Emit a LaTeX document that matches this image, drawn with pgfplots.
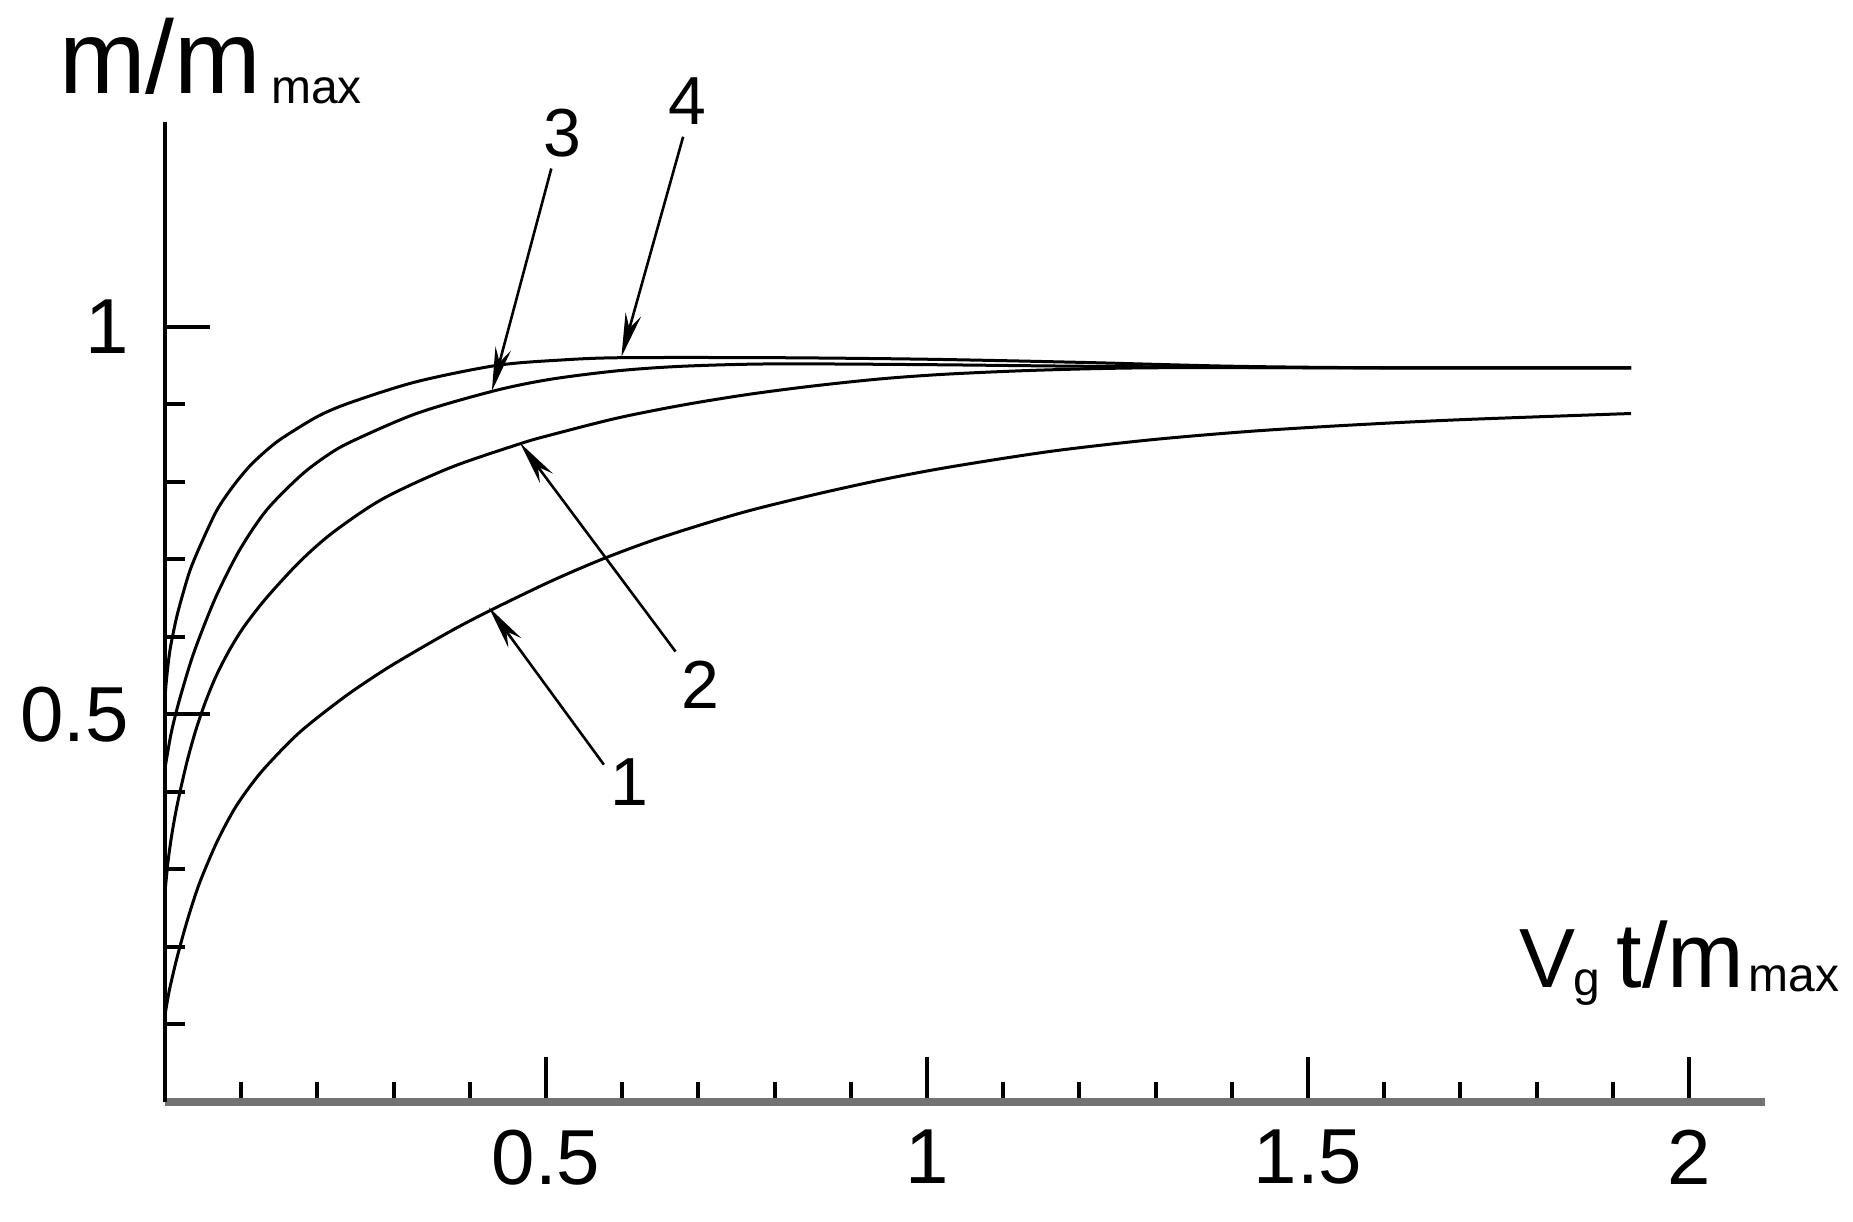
\documentclass[border=0pt]{standalone}
\usepackage{fontspec}
\setmainfont{Liberation Sans}
\usepackage{pgfplots}
\pgfplotsset{compat=1.18}
\usetikzlibrary{arrows.meta}
\begin{document}
\begin{tikzpicture}
\begin{axis}[
  x=190.5pt, y=193.8pt,
  xmin=0, xmax=2.1, ymin=0, ymax=1.264,
  axis x line=bottom, axis y line=left,
  x axis line style={-, black!55, line width=2.2pt},
  y axis line style={-, black, line width=1.2pt},
  tick align=inside,
  xtick={0.5,1,1.5,2},
  minor xtick={0.1,0.2,0.3,0.4,0.6,0.7,0.8,0.9,1.1,1.2,1.3,1.4,1.6,1.7,1.8,1.9},
  ytick={0.5,1},
  minor ytick={0.1,0.2,0.3,0.4,0.6,0.7,0.8,0.9},
  major tick length=11.2pt, minor tick length=5pt,
  every tick/.style={black, line width=1pt},
  ticklabel style={font=\fontsize{19.5}{20}\selectfont},
  /pgf/number format/assume math mode=true,
  xticklabel style={yshift=-3.5pt},
  yticklabel style={xshift=-5.5pt},
  clip=false,
]
% curve 1
\addplot[black, line width=0.75pt, smooth, tension=0.5] coordinates {
(0,0.112) (0.004,0.135) (0.0066,0.148) (0.015,0.183) (0.024,0.216) (0.033,0.246)
(0.046,0.284) (0.068,0.335) (0.09,0.376) (0.11,0.405) (0.133,0.433) (0.177,0.477)
(0.235,0.522) (0.286,0.556) (0.33,0.582) (0.38,0.610) (0.427,0.634) (0.505,0.671)
(0.571,0.699) (0.636,0.723) (0.702,0.744) (0.768,0.763) (0.855,0.784) (0.943,0.803)
(1.03,0.819) (1.161,0.839) (1.293,0.854) (1.424,0.865) (1.555,0.873) (1.70,0.880)
(1.924,0.888)};
% curve 2
\addplot[black, line width=0.75pt, smooth, tension=0.5] coordinates {
(0,0.27) (0.004,0.31) (0.009,0.345) (0.015,0.378) (0.022,0.41) (0.03,0.443)
(0.04,0.478) (0.052,0.513) (0.066,0.547) (0.083,0.580) (0.103,0.612) (0.133,0.650)
(0.177,0.697) (0.221,0.735) (0.286,0.778) (0.374,0.818) (0.466,0.849) (0.505,0.860)
(0.593,0.882) (0.68,0.899) (0.768,0.913) (0.855,0.924) (0.943,0.933) (1.03,0.939)
(1.15,0.944) (1.3,0.947) (1.6,0.947) (1.924,0.947)};
% curve 3
\addplot[black, line width=0.75pt, smooth, tension=0.5] coordinates {
(0,0.43) (0.008,0.475) (0.018,0.515) (0.033,0.565) (0.046,0.601) (0.068,0.654)
(0.098,0.712) (0.133,0.763) (0.177,0.807) (0.21,0.832) (0.243,0.851) (0.33,0.888)
(0.431,0.917) (0.505,0.932) (0.593,0.943) (0.68,0.949) (0.8,0.952) (1.0,0.951)
(1.2,0.949) (1.5,0.947) (1.924,0.947)};
% curve 4
\addplot[black, line width=0.75pt, smooth, tension=0.5] coordinates {
(0,0.52) (0.002,0.545) (0.0066,0.583) (0.015,0.624) (0.024,0.657) (0.033,0.686)
(0.046,0.717) (0.068,0.763) (0.09,0.795) (0.112,0.821) (0.135,0.842) (0.155,0.857)
(0.2,0.884) (0.243,0.902) (0.33,0.929) (0.435,0.950) (0.52,0.957) (0.6,0.960)
(0.8,0.960) (1.0,0.958) (1.2,0.954) (1.4,0.949) (1.6,0.947) (1.924,0.947)};
% arrows and curve numbers
\draw[line width=0.65pt, -{Stealth[length=11pt, width=4pt]}] (axis cs:0.576,0.435) -- (axis cs:0.425,0.638);
\draw[line width=0.65pt, -{Stealth[length=11pt, width=4pt]}] (axis cs:0.670,0.581) -- (axis cs:0.466,0.850);
\draw[line width=0.65pt, -{Stealth[length=11pt, width=4pt]}] (axis cs:0.507,1.204) -- (axis cs:0.429,0.917);
\draw[line width=0.65pt, -{Stealth[length=11pt, width=4pt]}] (axis cs:0.680,1.245) -- (axis cs:0.599,0.961);
\node[font=\fontsize{17}{17}\selectfont, inner sep=0] at (axis cs:0.61,0.413) {1};
\node[font=\fontsize{17}{17}\selectfont, inner sep=0] at (axis cs:0.702,0.538) {2};
\node[font=\fontsize{17}{17}\selectfont, inner sep=0] at (axis cs:0.521,1.250) {3};
\node[font=\fontsize{17}{17}\selectfont, inner sep=0] at (axis cs:0.686,1.291) {4};
% axis labels
\node[anchor=base west, inner sep=0] at (axis cs:-0.140,1.301)
  {\fontsize{26}{26}\selectfont m/m\hspace{2.5pt}\fontsize{12}{12}\selectfont\raisebox{-2.5pt}{max}};
\node[anchor=base east, inner sep=0] at (axis cs:2.198,0.148)
  {\fontsize{21}{21}\selectfont V\kern-0.3pt\fontsize{12}{12}\selectfont\raisebox{-2pt}{g}\hspace{4pt}\fontsize{23}{23}\selectfont t/m\hspace{1pt}\fontsize{12}{12}\selectfont\raisebox{-1pt}{max}};
\coordinate (bbll) at (axis cs:-0.2165,-0.1548);
\coordinate (bbur) at (axis cs:2.2152,1.4214);
\end{axis}
\pgfresetboundingbox
\path[use as bounding box] (bbll) rectangle (bbur);
\end{tikzpicture}
\end{document}
